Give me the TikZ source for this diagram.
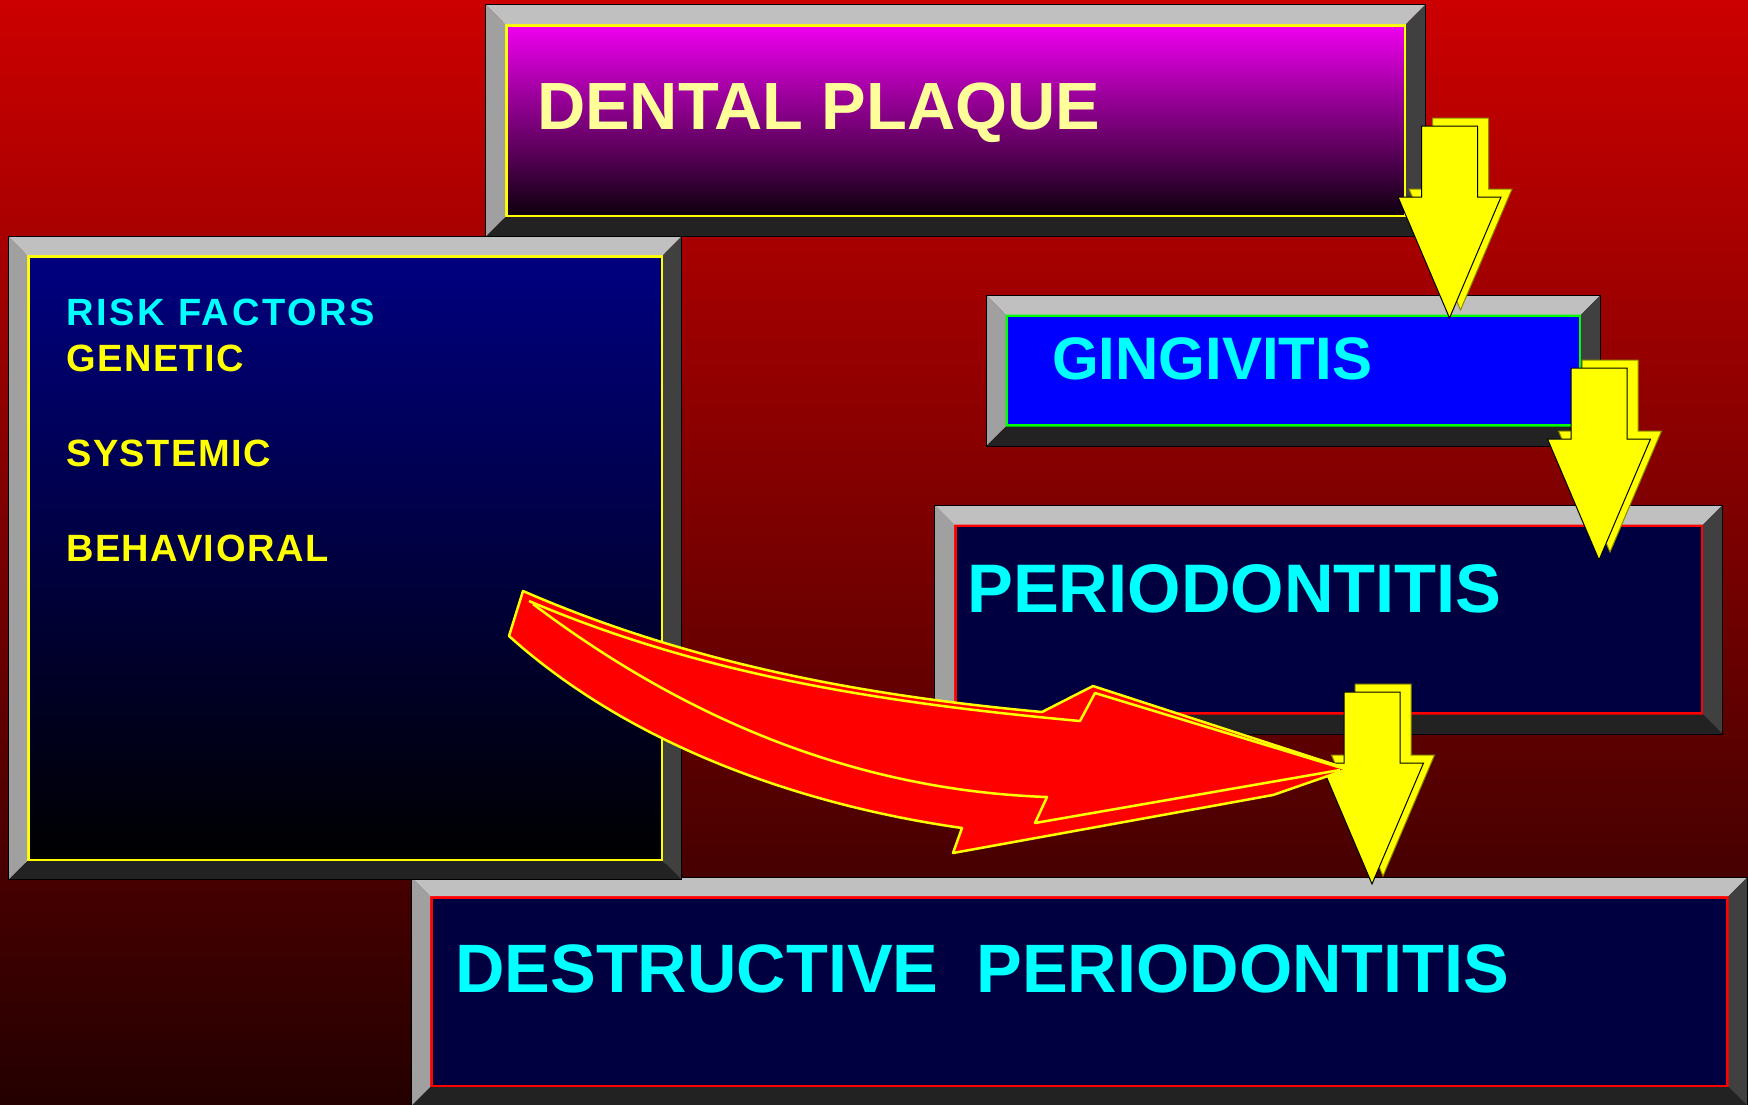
\documentclass[tikz,border=0pt]{standalone}
\usepackage{fontspec}
\setmainfont{Liberation Sans}
\newfontfamily\spacedfont{Liberation Sans}[LetterSpace=4.0]
\newfontfamily\widefont{Liberation Sans}[LetterSpace=7.0]
\usetikzlibrary{calc}

\definecolor{bgtop}{RGB}{204,0,0}
\definecolor{bgbot}{RGB}{36,0,0}
\definecolor{plaquetop}{RGB}{240,0,240}
\definecolor{plaquebot}{RGB}{12,0,12}
\definecolor{navy}{RGB}{0,0,128}
\definecolor{deepnavy}{RGB}{0,0,64}
\definecolor{cream}{RGB}{255,255,153}
\definecolor{aqua}{RGB}{0,255,255}
\definecolor{lemon}{RGB}{255,255,0}
\definecolor{lime}{RGB}{0,255,0}
\definecolor{pure}{RGB}{0,0,255}
\definecolor{scarlet}{RGB}{255,0,0}
\definecolor{bevlight}{RGB}{192,192,192}
\definecolor{bevmid}{RGB}{160,160,160}
\definecolor{bevdark}{RGB}{64,64,64}
\definecolor{bevdeep}{RGB}{34,34,34}

\newcommand\sz[1]{\bfseries\fontsize{#1}{1.2\dimexpr#1pt\relax}\selectfont}

% bevelled frame round a face node: #1 node, #2 bevel width
\newcommand\bevel[2]{%
  \path ($(#1.north west)+(-#2,-#2)$) coordinate (#1-nw)
        ($(#1.north east)+(#2,-#2)$) coordinate (#1-ne)
        ($(#1.south east)+(#2,#2)$) coordinate (#1-se)
        ($(#1.south west)+(-#2,#2)$) coordinate (#1-sw);
  \fill[bevlight] (#1-nw) -- (#1-ne) -- (#1.north east) -- (#1.north west) -- cycle;
  \fill[bevdark] (#1-ne) -- (#1-se) -- (#1.south east) -- (#1.north east) -- cycle;
  \fill[bevdeep] (#1-se) -- (#1-sw) -- (#1.south west) -- (#1.south east) -- cycle;
  \fill[bevmid] (#1-sw) -- (#1-nw) -- (#1.north west) -- (#1.south west) -- cycle;
  \draw[line width=1pt] (#1-nw) rectangle (#1-se);
}

\begin{document}
\begin{tikzpicture}[
    x=1pt, y=-1pt,
    face/.style={
        anchor=north west,
        draw,
        line width=5pt,
        inner sep=0pt,
        outer sep=0pt
    },
    boxtext/.style={
        anchor=base west,
        inner sep=0pt,
        text=aqua
    },
    riskitem/.style={
        boxtext,
        text=lemon,
        font=\spacedfont\sz{38}
    },
    yarrow/.pic={
        \foreach \dx/\dy/\edge in {11/-8/lemon!55!black, 0/0/black}
        \filldraw[fill=lemon, draw=\edge, line width=1pt, shift={(\dx,\dy)}]
            (-28,0) -- (28,0) -- (28,71) -- (51.5,71) -- (0,192)
            -- (-51.5,71) -- (-28,71) -- cycle;
    },
    redarrow/.style={fill=scarlet, draw=lemon, line width=2.5pt, line join=round},
    redfold/.style={draw=lemon, line width=2.5pt, line join=round}
]

% Background
\useasboundingbox (0,0) rectangle (1748,1104);
\shade[top color=bgtop, bottom color=bgbot] (0,0) rectangle (1748,1104);

% Destructive periodontitis
\node[face, draw=scarlet, fill=deepnavy, minimum width=1298.5pt, minimum height=191pt]
    (destr) at (430,896) {};
\bevel{destr}{19}
\node[boxtext, font=\sz{68.5}] (destr_text) at (455,992.7)
{DESTRUCTIVE\ \ PERIODONTITIS};

% Risk factors
\node[face, draw=lemon, top color=navy, bottom color=black,
    minimum width=636pt, minimum height=606pt] (risk) at (27,255) {};
\bevel{risk}{18.5}
\node[riskitem, text=aqua, font=\widefont\sz{38}] (risk_title) at (66,325.7)
{RISK FACTORS};
\node[riskitem] (genetic) at (66,371.7) {GENETIC};
\node[riskitem] (systemic) at (66,466) {SYSTEMIC};
\node[riskitem] (behavioral) at (66,561) {BEHAVIORAL};

% Dental plaque
\node[face, draw=lemon, top color=plaquetop, bottom color=plaquebot,
    minimum width=901pt, minimum height=193pt] (plaque) at (505,24) {};
\bevel{plaque}{19.5}
\node[boxtext, text=cream, font=\sz{66.8}] (plaque_text) at (537,129)
{DENTAL PLAQUE};

% Gingivitis
\node[face, draw=lime, fill=pure, minimum width=575.5pt, minimum height=112pt]
    (ging) at (1005.5,314.5) {};
\bevel{ging}{19.5}
\node[boxtext, font=\sz{60}] (ging_text) at (1052,379.3) {GINGIVITIS};

% Periodontitis
\node[face, draw=scarlet, fill=deepnavy, minimum width=749pt, minimum height=190pt]
    (perio) at (954,524.5) {};
\bevel{perio}{19.5}
\node[boxtext, font=\sz{68.7}] (perio_text) at (967,612.3) {PERIODONTITIS};

% Yellow arrows
\pic (plaque_ging) at (1449.5,126) {yarrow};
\pic (ging_perio) at (1599,368) {yarrow};
\pic (perio_destr) at (1372,692) {yarrow};

% Red arrow from the risk factors
\filldraw[redarrow] (523,591) .. controls (700,668) and (880,697) .. (1042,712)
    -- (1093,686) -- (1348,769) -- (1273,795) -- (953,853) -- (962,828)
    .. controls (800,805) and (630,745) .. (509,636) -- cycle;
\draw[redfold] (529,601) .. controls (705,676) and (885,703) .. (1080,721)
    -- (1095,693) -- (1345,769);
\draw[redfold] (533,604) .. controls (680,715) and (850,790) .. (1047,797)
    -- (1035,823) -- (1340,770);

\end{tikzpicture}
\end{document}
